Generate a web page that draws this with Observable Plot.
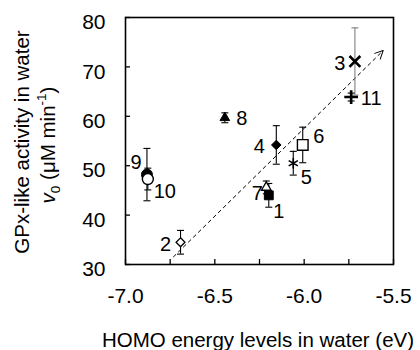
<!DOCTYPE html>
<html><head><meta charset="utf-8">
<script src="https://cdn.jsdelivr.net/npm/d3@7"></script>
<script src="https://cdn.jsdelivr.net/npm/@observablehq/plot@0.6"></script>
<style>
body{margin:0;background:#fff}
svg{font-family:"Liberation Sans",Arial,sans-serif}
</style>
</head><body><div id="chart"></div>
<script>
// ---- data ----
const ids      = ["1","2","3","4","5","6","7","8","9","10","11"];
const homo     = [-6.198,-6.692,-5.716,-6.156,-6.061,-6.008,-6.212,-6.444,-6.880,-6.875,-5.737];
const activity = [44.0, 34.5, 71.1, 54.2, 50.5, 54.2, 45.6, 59.7, 48.2, 47.3, 63.9];
const errors   = [2.4, 2.4, 6.8, 3.9, 2.4, 3.6, 1.3, 1.0, 5.3, 2.2, 0.8];
const trendHomo     = [-6.733, -5.558];
const trendActivity = [31.5, 73.3];
const xTickValues  = [-7.0, -6.75, -6.5, -6.25, -6.0, -5.75, -5.5];
const xLabelValues = [-7.0, -6.5, -6.0, -5.5];
const yTickValues  = [30, 40, 50, 60, 70, 80];

// ---- styles ----
const markerStyle = {
  "1":  {symbol:"square",   fill:"black", stroke:"black", r:5,   sw:1},
  "2":  {symbol:"diamond2", fill:"white", stroke:"black", r:4,   sw:1.3},
  "3":  {symbol:"times",    fill:"none",  stroke:"black", r:5,   sw:2.6},
  "4":  {symbol:"diamond2", fill:"black", stroke:"black", r:4.3, sw:1},
  "5":  {symbol:"asterisk", fill:"none",  stroke:"black", r:5,   sw:1.6},
  "6":  {symbol:"square",   fill:"white", stroke:"black", r:6,   sw:1.4},
  "7":  {symbol:"triangle", fill:"white", stroke:"black", r:3.6, sw:1.3},
  "8":  {symbol:"triangle", fill:"black", stroke:"black", r:3.6, sw:1},
  "9":  {symbol:"circle",   fill:"black", stroke:"black", r:5.5, sw:1},
  "10": {symbol:"circle",   fill:"white", stroke:"black", r:5.5, sw:1.4},
  "11": {symbol:"plus",     fill:"none",  stroke:"black", r:4.5, sw:2.6}
};
const errColor = {"3": "#808080"};
const labelOffset = {
  "1":[10,16], "2":[-15,2], "3":[-15,2], "4":[-17,2], "5":[13,14], "6":[16,-8],
  "7":[-9,6], "8":[17,1], "9":[-11,-12], "10":[17,13], "11":[20,2]
};

const data = ids.map((id, i) => ({
  id, x: homo[i], y: activity[i], lo: activity[i] - errors[i], hi: activity[i] + errors[i]
}));
const trend = [{x1: trendHomo[0], y1: trendActivity[0], x2: trendHomo[1], y2: trendActivity[1]}];

const capSymbol = {
  draw(ctx, size) {
    const r = Math.sqrt(size / Math.PI);
    ctx.moveTo(-r, 0); ctx.lineTo(r, 0);
  }
};

const marks = [
  Plot.frame({stroke: "black", strokeWidth: 1.6}),
  Plot.axisX(xTickValues, {tickSize: -5, tickFormat: () => "", label: null, strokeWidth: 1.3}),
  Plot.axisX(xLabelValues, {tickSize: 0, tickPadding: 24, tickFormat: d => d.toFixed(1), label: null, fontSize: 21}),
  Plot.axisY(yTickValues, {tickSize: -5, tickFormat: () => "", label: null, strokeWidth: 1.3}),
  Plot.axisY(yTickValues, {tickSize: 0, tickPadding: 20, dy: 5, label: null, fontSize: 21}),
  Plot.link(trend, {x1: "x1", y1: "y1", x2: "x2", y2: "y2", stroke: "black", strokeWidth: 1, strokeDasharray: "4,3", markerEnd: "arrow"})
];

data.forEach(d => {
  const c = errColor[d.id] || "black";
  marks.push(Plot.ruleX([d], {x: "x", y1: "lo", y2: "hi", stroke: c, strokeWidth: 1.1}));
  marks.push(Plot.dot([d], {x: "x", y: "lo", symbol: capSymbol, r: 3.5, stroke: c, strokeWidth: 1.1, fill: "none"}));
  marks.push(Plot.dot([d], {x: "x", y: "hi", symbol: capSymbol, r: 3.5, stroke: c, strokeWidth: 1.1, fill: "none"}));
});
data.forEach(d => {
  const s = markerStyle[d.id];
  marks.push(Plot.dot([d], {x: "x", y: "y", symbol: s.symbol, r: s.r, fill: s.fill, stroke: s.stroke, strokeWidth: s.sw}));
});
data.forEach(d => {
  const [dx, dy] = labelOffset[d.id];
  marks.push(Plot.text([d], {x: "x", y: "y", text: "id", dx, dy, fontSize: 20, fill: "black"}));
});

const chart = Plot.plot({
  width: 420, height: 350,
  marginLeft: 125, marginRight: 27, marginTop: 17, marginBottom: 86,
  style: {fontFamily: "Liberation Sans, Arial, sans-serif", fontSize: "21px", color: "black", background: "white"},
  x: {domain: [-7, -5.5]},
  y: {domain: [30, 80]},
  marks
});
document.getElementById("chart").appendChild(chart);

const svg = d3.select(chart);
svg.selectAll("marker")
   .attr("viewBox", "-10 -10 20 20")
   .attr("markerWidth", 20).attr("markerHeight", 20)
   .attr("overflow", "visible")
   .selectAll("path")
   .attr("d", "M-8,-4L0,0L-8,4")
   .attr("stroke-width", 1)
   .attr("stroke-dasharray", "none")
   .attr("fill", "none");

// axis titles
svg.append("text").attr("x", 258).attr("y", 340).attr("dy", "0.35em")
   .attr("text-anchor", "middle").attr("font-size", 20.5).attr("fill", "black")
   .text("HOMO energy levels in water (eV)");
const g = svg.append("g").attr("transform", "rotate(-90)");
g.append("text").attr("x", -142).attr("y", 22).attr("dy", "0.35em")
  .attr("text-anchor", "middle").attr("font-size", 20.5).attr("fill", "black")
  .text("GPx-like activity in water");
const t2 = g.append("text").attr("x", -145).attr("y", 48).attr("dy", "0.35em")
  .attr("text-anchor", "middle").attr("font-size", 20.5).attr("fill", "black");
t2.append("tspan").attr("font-style", "italic").text("v");
t2.append("tspan").attr("font-size", 13.5).attr("dy", 5).text("0");
t2.append("tspan").attr("dy", -5).text(" (\u03bcM min");
t2.append("tspan").attr("font-size", 13.5).attr("dy", -9).text("-1");
t2.append("tspan").attr("dy", 9).text(")");
</script>
</body></html>
